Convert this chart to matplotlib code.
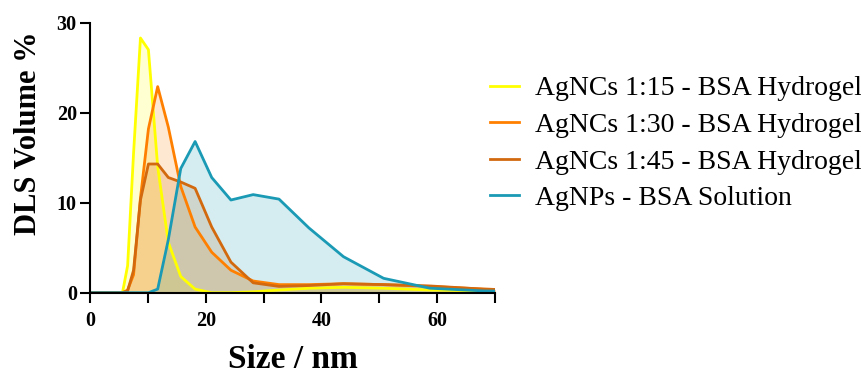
import matplotlib.pyplot as plt
import numpy as np

# DLS size bins (nm)
size = np.array([0.4, 0.4632, 0.5365, 0.6213, 0.7195, 0.8332, 0.9649, 1.117, 1.294,
                 1.499, 1.736, 2.01, 2.328, 2.696, 3.122, 3.615, 4.187, 4.849, 5.615,
                 6.503, 7.531, 8.721, 10.1, 11.7, 13.54, 15.69, 18.17, 21.04, 24.36,
                 28.21, 32.67, 37.84, 43.82, 50.75, 58.77, 68.06, 78.82])
n0 = 18  # bins below 5.6 nm are all zero

# volume % from 5.615 nm upward
ag15 = [0, 3.0, 15.5, 28.3, 27.0, 14.0, 5.6, 1.8, 0.4, 0.0, 0.0, 0.1, 0.3, 0.5, 0.6, 0.5, 0.3, 0.2, 0.1]
ag30 = [0, 0.3, 2.0, 10.5, 18.2, 22.9, 18.4, 11.8, 7.3, 4.5, 2.5, 1.3, 0.9, 0.9, 1.0, 0.9, 0.7, 0.4, 0.2]
ag45 = [0, 0.2, 2.5, 10.3, 14.3, 14.3, 12.8, 12.3, 11.6, 7.3, 3.4, 1.1, 0.7, 0.8, 1.0, 0.9, 0.75, 0.4, 0.2]
agnp = [0, 0, 0, 0, 0, 0.4, 5.9, 13.8, 16.8, 12.8, 10.3, 10.9, 10.4, 7.2, 4.0, 1.6, 0.5, 0.2, 0.1]

labels = ["AgNCs 1:15 - BSA Hydrogel", "AgNCs 1:30 - BSA Hydrogel",
          "AgNCs 1:45 - BSA Hydrogel", "AgNPs - BSA Solution"]
colors = ["#FFFF00", "#FF8000", "#D2690E", "#1A9AB4"]
series = [ag15, ag30, ag45, agnp]

serif = "Liberation Serif"

fig = plt.figure(figsize=(8.62, 3.76), dpi=100)
ax = fig.add_axes([0.1044, 0.2215, 0.4698, 0.7181])

for vals, c, lab in zip(series, colors, labels):
    y = np.concatenate([np.zeros(n0), vals])
    ax.fill_between(size, y, 0, color=c, alpha=0.18, lw=0)
    ax.plot(size, y, color=c, lw=2, label=lab)

ax.set_xlim(0, 70)
ax.set_ylim(0, 30)
ax.set_xticks([0, 20, 40, 60])
ax.set_xticks([10, 30, 50, 70], minor=True)
ax.set_yticks([0, 10, 20, 30])
ax.tick_params(which="both", width=1.5, length=7.5, labelsize=14.5)
ax.tick_params(axis="x", which="both", pad=6)
ax.tick_params(axis="y", pad=2)
for s in ["top", "right"]:
    ax.spines[s].set_visible(False)
for s in ["left", "bottom"]:
    ax.spines[s].set_linewidth(1.5)
for t in ax.get_xticklabels() + ax.get_yticklabels():
    t.set_fontfamily(serif)
    t.set_fontweight("bold")

ax.set_xlabel("Size / nm", fontfamily=serif, fontweight="bold", fontsize=24)
ax.set_ylabel("DLS Volume %", fontfamily=serif, fontweight="bold", fontsize=22)
ax.xaxis.set_label_coords(0.5, -0.19)
ax.yaxis.set_label_coords(-0.115, 0.59)

fig.legend(loc="upper left", bbox_to_anchor=(0.5684, 0.798), frameon=False,
           prop={"family": serif, "size": 20}, handlelength=1.05,
           handletextpad=0.58, labelspacing=0.4, borderaxespad=0, borderpad=0)

plt.savefig("out.png", dpi=100)
